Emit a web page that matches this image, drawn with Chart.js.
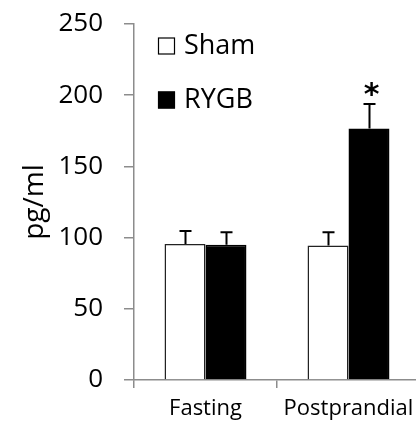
<!DOCTYPE html>
<html>
<head>
<meta charset="utf-8">
<script src="https://cdn.jsdelivr.net/npm/chart.js@4.4.1/dist/chart.umd.min.js"></script>
<style>
  html, body { margin: 0; padding: 0; background: #fff; overflow: hidden; }
  #wrap { width: 420px; height: 428px; position: relative; }
</style>
</head>
<body>
<div id="wrap"><canvas id="chart"></canvas></div>
<script>
// ---- data ----
const categories = ['Fasting', 'Postprandial'];
const shamMean = [95.5, 94.5];
const shamErr = [9.1, 9.3];
const rygbMean = [95, 176.7];
const rygbErr = [8.7, 17.1];
const yTicks = [0, 50, 100, 150, 200, 250];
const signif = [null, '*']; // marks above RYGB bars

const FONT = '"Open Sans", sans-serif';
const AXIS_GRAY = '#8c8c8c';

// error bars (upward only) + significance star
const errorBars = {
  id: 'errorBars',
  afterDatasetsDraw(chart) {
    const { ctx } = chart;
    const y = chart.scales.y;
    const errs = [shamErr, rygbErr];
    ctx.save();
    ctx.strokeStyle = '#000';
    ctx.lineWidth = 2;
    chart.data.datasets.forEach((ds, di) => {
      const meta = chart.getDatasetMeta(di);
      meta.data.forEach((bar, i) => {
        const top = y.getPixelForValue(ds.data[i] + errs[di][i]);
        const x = Math.round(bar.x) + 0.5;
        ctx.beginPath();
        ctx.moveTo(x, bar.y);
        ctx.lineTo(x, top);
        ctx.moveTo(x - 6, top);
        ctx.lineTo(x + 6, top);
        ctx.stroke();
        if (di === 1 && signif[i]) {
          ctx.fillStyle = '#000';
          ctx.font = 'bold 30px "DejaVu Sans", sans-serif';
          ctx.textAlign = 'center';
          ctx.textBaseline = 'middle';
          ctx.fillText(signif[i], x + 2, top - 8);
        }
      });
    });
    ctx.restore();
  }
};

// legend stacked at top-left of the plot
const boxLegend = {
  id: 'boxLegend',
  afterDraw(chart) {
    const { ctx } = chart;
    const rows = [46, 100];
    ctx.save();
    chart.data.datasets.forEach((ds, i) => {
      const cy = rows[i];
      ctx.fillStyle = ds.backgroundColor;
      ctx.fillRect(158, cy - 8.5, 17, 17);
      ctx.strokeStyle = '#000';
      ctx.lineWidth = 1.2;
      ctx.strokeRect(158.5, cy - 8, 16, 16);
      ctx.fillStyle = '#000';
      ctx.font = '27px ' + FONT;
      ctx.textAlign = 'left';
      ctx.textBaseline = 'middle';
      ctx.fillText(ds.label, 184, cy);
    });
    ctx.restore();
  }
};

new Chart(document.getElementById('chart'), {
  type: 'bar',
  data: {
    labels: categories,
    datasets: [
      { label: 'Sham', data: shamMean, backgroundColor: '#ffffff', borderColor: '#222', borderWidth: 1.5 },
      { label: 'RYGB', data: rygbMean, backgroundColor: '#000000', borderColor: '#000', borderWidth: 1.5 }
    ]
  },
  options: {
    responsive: true, maintainAspectRatio: false, animation: false,
    layout: { padding: { top: 24, right: 0, left: 0, bottom: 0 } },
    datasets: { bar: { categoryPercentage: 0.573, barPercentage: 1 } },
    plugins: { legend: { display: false }, tooltip: { enabled: false } },
    scales: {
      x: {
        afterFit: s => { s.height = 48; s.paddingLeft = 0; s.paddingRight = 0; },
        grid: { drawOnChartArea: false, tickLength: 8, color: AXIS_GRAY, lineWidth: 1.5 },
        border: { color: AXIS_GRAY, width: 1.5 },
        ticks: { color: '#000', font: { family: FONT, size: 22 }, padding: 8, maxRotation: 0, autoSkip: false }
      },
      y: {
        min: 0, max: 250,
        afterFit: s => { s.width = 134; s.paddingTop = 0; s.paddingBottom = 0; },
        afterBuildTicks: s => { s.ticks = yTicks.map(v => ({ value: v })); },
        grid: { drawOnChartArea: false, tickLength: 10, color: AXIS_GRAY, lineWidth: 1.5 },
        border: { color: AXIS_GRAY, width: 1.5 },
        ticks: { color: '#000', font: { family: FONT, size: 26 }, padding: 21 },
        title: { display: true, text: 'pg/ml', color: '#000', font: { family: FONT, size: 28 }, padding: { top: 18, bottom: 0 } }
      }
    }
  },
  plugins: [errorBars, boxLegend]
});
</script>
</body>
</html>
